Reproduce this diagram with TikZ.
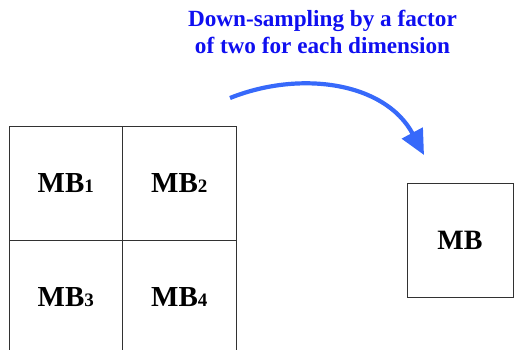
\documentclass[tikz,border=0pt]{standalone}
\usepackage{fontspec}
\setmainfont{Liberation Serif}
\usetikzlibrary{arrows.meta}
\definecolor{capblue}{RGB}{15,15,240}
\definecolor{arrowblue}{RGB}{55,105,250}
\definecolor{edgegray}{RGB}{50,50,50}
\newcommand{\mbsub}[1]{MB\raisebox{-0.5pt}{\fontsize{19}{19}\selectfont #1}}
\begin{document}
\begin{tikzpicture}[x=1pt,y=-1pt,
  cell/.style={draw=edgegray, line width=0.9pt, minimum width=113.5pt, minimum height=114pt,
    inner sep=0pt, font=\fontsize{29}{29}\selectfont\bfseries},
  caption/.style={text=capblue, font=\fontsize{23.2}{27}\selectfont\bfseries, align=center},
  curvearrow/.style={draw=arrowblue, line width=4.2pt, -{Triangle[length=25pt,width=23pt]}}]
\useasboundingbox (0,0) rectangle (514,349);

% 2x2 grid of macroblocks
\node[cell] (mb1) at (65.75,183) {\mbsub{1}};
\node[cell] (mb2) at (179.25,183) {\mbsub{2}};
\node[cell] (mb3) at (65.75,297) {\mbsub{3}};
\node[cell] (mb4) at (179.25,297) {\mbsub{4}};

% single down-sampled macroblock
\node[cell, minimum width=106pt, font=\fontsize{28}{28}\selectfont\bfseries] (mb) at (460,240) {MB};

% caption
\node[caption] (cap) at (322.5,32) {Down-sampling by a factor\\of two for each dimension};

% curved arrow
\coordinate (from) at (230,98);
\coordinate (to) at (424,155);
\draw[curvearrow] (from) .. controls (300,70) and (385,82) .. (to);
\end{tikzpicture}
\end{document}
